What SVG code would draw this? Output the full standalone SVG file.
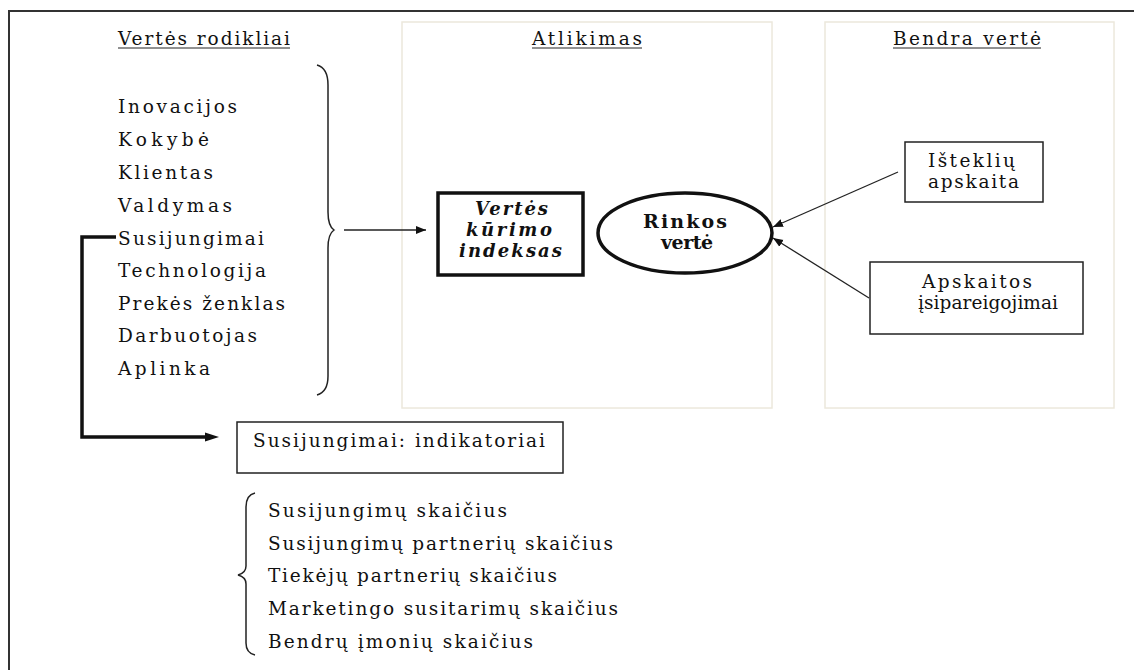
<svg xmlns="http://www.w3.org/2000/svg" width="1136" height="670" viewBox="0 0 1136 670">
  <defs>
    <marker id="arrow" viewBox="0 0 10 10" refX="10" refY="5" markerWidth="10" markerHeight="10" markerUnits="userSpaceOnUse" orient="auto">
      <path d="M0,1 L10,5 L0,9 Z" fill="#111"/>
    </marker>
    <marker id="arrowBold" viewBox="0 0 14 10" refX="0" refY="5" markerWidth="14" markerHeight="10" markerUnits="userSpaceOnUse" orient="auto">
      <path d="M0,0.5 L14,5 L0,9.5 Z" fill="#111"/>
    </marker>
    <linearGradient id="edgeFade" x1="0" y1="0" x2="0" y2="1">
      <stop offset="0" stop-color="#333"/>
      <stop offset="0.75" stop-color="#555"/>
      <stop offset="1" stop-color="#555" stop-opacity="0"/>
    </linearGradient>
    <style>
      text { font-family: "DejaVu Serif", "Liberation Serif", serif; font-size: 18.5px; fill: #111; }
      .bi { font-weight: bold; font-style: italic; font-size: 18px; }
      .b { font-weight: bold; font-size: 19px; }
      .panel { fill: none; stroke: #ece8dc; stroke-width: 1.5; }
      .box { fill: #fff; stroke: #222; stroke-width: 1.5; }
      .thick { fill: #fff; stroke: #111; stroke-width: 3.5; }
      .uline { stroke: #222; stroke-width: 1; }
      .brace { fill: none; stroke: #222; stroke-width: 1.5; }
      .conn { fill: none; stroke: #222; stroke-width: 1.3; }
      .connBold { fill: none; stroke: #111; stroke-width: 3.5; }
    </style>
  </defs>

  <rect width="1136" height="670" fill="#fff"/>

  <!-- frame -->
  <g id="frame">
    <path d="M9,670 V11 H1134" fill="none" stroke="#333" stroke-width="2"/>
    <line x1="1134" y1="11" x2="1134" y2="232" stroke="url(#edgeFade)" stroke-width="2"/>
  </g>

  <!-- column panels -->
  <g id="panel-atlikimas">
    <rect class="panel" x="402" y="22" width="370" height="386"/>
    <text x="532" y="45" textLength="110" lengthAdjust="spacing">Atlikimas</text>
    <line class="uline" x1="532" y1="48" x2="642" y2="48"/>
  </g>
  <g id="panel-bendra">
    <rect class="panel" x="825" y="22" width="289" height="386"/>
    <text x="893" y="45" textLength="148" lengthAdjust="spacing">Bendra vertė</text>
    <line class="uline" x1="893" y1="48" x2="1041" y2="48"/>
  </g>

  <!-- value drivers list -->
  <g id="vertes-rodikliai">
    <text x="118" y="45" textLength="172" lengthAdjust="spacing">Vertės rodikliai</text>
    <line class="uline" x1="118" y1="48" x2="290" y2="48"/>
    <text x="118" y="113" textLength="119" lengthAdjust="spacing">Inovacijos</text>
    <text x="118" y="146" textLength="91" lengthAdjust="spacing">Kokybė</text>
    <text x="118" y="179" textLength="95" lengthAdjust="spacing">Klientas</text>
    <text x="118" y="212" textLength="114" lengthAdjust="spacing">Valdymas</text>
    <text x="118" y="245" textLength="146" lengthAdjust="spacing">Susijungimai</text>
    <text x="118" y="277" textLength="148" lengthAdjust="spacing">Technologija</text>
    <text x="118" y="310" textLength="167" lengthAdjust="spacing">Prekės ženklas</text>
    <text x="118" y="342" textLength="139" lengthAdjust="spacing">Darbuotojas</text>
    <text x="118" y="375" textLength="92" lengthAdjust="spacing">Aplinka</text>
    <path class="brace" d="M317,65 Q328,68 328,85 V212 Q328,226 334,230 Q328,234 328,248 V376 Q328,392 317,395"/>
  </g>

  <!-- value creation index -->
  <g id="vertes-kurimo-indeksas">
    <rect class="thick" x="438" y="193" width="145" height="82"/>
    <text class="bi" x="475" y="215" textLength="73" lengthAdjust="spacing">Vertės</text>
    <text class="bi" x="466" y="236" textLength="86" lengthAdjust="spacing">kūrimo</text>
    <text class="bi" x="459" y="257" textLength="103" lengthAdjust="spacing">indeksas</text>
  </g>

  <!-- market value -->
  <g id="rinkos-verte">
    <ellipse cx="685" cy="233" rx="87" ry="40" fill="#fff" stroke="#111" stroke-width="3.5"/>
    <text class="b" x="643" y="228" textLength="84" lengthAdjust="spacing">Rinkos</text>
    <text class="b" x="661" y="249" textLength="52" lengthAdjust="spacing">vertė</text>
  </g>

  <g id="istekliu-apskaita">
    <rect class="box" x="905" y="142" width="138" height="60"/>
    <text x="928" y="167" textLength="87" lengthAdjust="spacing">Išteklių</text>
    <text x="928" y="188" textLength="91" lengthAdjust="spacing">apskaita</text>
  </g>

  <g id="apskaitos-isipareigojimai">
    <rect class="box" x="870" y="262" width="213" height="72"/>
    <text x="922" y="288" textLength="110" lengthAdjust="spacing">Apskaitos</text>
    <text x="918" y="309" textLength="140" lengthAdjust="spacing">įsipareigojimai</text>
  </g>

  <g id="susijungimai-indikatoriai">
    <rect class="box" x="237" y="422" width="326" height="51"/>
    <text x="253" y="447" textLength="292" lengthAdjust="spacing">Susijungimai: indikatoriai</text>
  </g>

  <!-- indicator list -->
  <g id="indikatoriu-sarasas">
    <path class="brace" d="M255,493 Q246,495 246,507 V566 Q246,573 238,575 Q246,577 246,584 V643 Q246,653 255,655"/>
    <text x="268" y="517" textLength="239" lengthAdjust="spacing">Susijungimų skaičius</text>
    <text x="268" y="550" textLength="345" lengthAdjust="spacing">Susijungimų partnerių skaičius</text>
    <text x="268" y="582" textLength="289" lengthAdjust="spacing">Tiekėjų partnerių skaičius</text>
    <text x="268" y="615" textLength="350" lengthAdjust="spacing">Marketingo susitarimų skaičius</text>
    <text x="268" y="648" textLength="265" lengthAdjust="spacing">Bendrų įmonių skaičius</text>
  </g>

  <!-- connectors -->
  <g id="connectors">
    <line class="conn" x1="344" y1="230" x2="426" y2="230" marker-end="url(#arrow)"/>
    <line class="conn" x1="898" y1="172" x2="773" y2="227" marker-end="url(#arrow)"/>
    <line class="conn" x1="869" y1="298" x2="773" y2="238" marker-end="url(#arrow)"/>
    <path class="connBold" d="M116,237 H82 V437 H205" marker-end="url(#arrowBold)"/>
  </g>
</svg>
